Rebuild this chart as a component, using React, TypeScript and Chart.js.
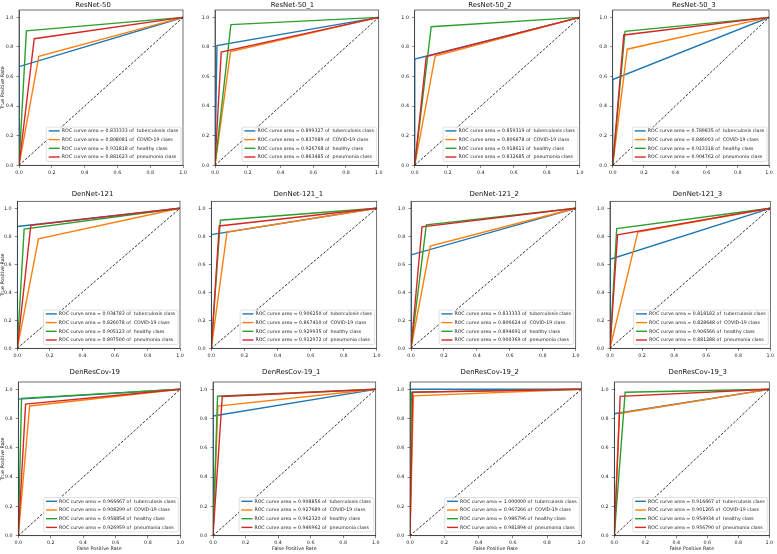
import React, { useEffect, useRef } from 'react';
import { Chart, registerables } from 'chart.js';

Chart.register(...registerables);

// ---------- data ----------
const CLASS_NAMES = ['tuberculosis', 'COVID-19', 'healthy', 'pneumonia'];
const CLASS_COLORS = ['#1f77b4', '#ff7f0e', '#2ca02c', '#d62728'];
const X_TICKS = [0, 0.2, 0.4, 0.6, 0.8, 1.0];
const Y_TICKS = [0, 0.2, 0.4, 0.6, 0.8, 1.0];
const DIAGONAL = [0, 1];

// operating point (false positive rate, true positive rate) per class, and AUC text
const FPR_RESNET50 = [0, 0.121, 0.045, 0.093];
const TPR_RESNET50 = [0.667, 0.737, 0.909, 0.856];
const AUC_RESNET50 = ['0.833333', '0.808081', '0.931818', '0.881623'];

const FPR_RESNET50_1 = [0.012, 0.095, 0.097, 0.038];
const TPR_RESNET50_1 = [0.81, 0.769, 0.951, 0.765];
const AUC_RESNET50_1 = ['0.899327', '0.837089', '0.926768', '0.863485'];

const FPR_RESNET50_2 = [0, 0.124, 0.1, 0.07];
const TPR_RESNET50_2 = [0.719, 0.738, 0.937, 0.735];
const AUC_RESNET50_2 = ['0.859319', '0.806878', '0.918611', '0.832685'];

const FPR_RESNET50_3 = [0, 0.093, 0.079, 0.071];
const TPR_RESNET50_3 = [0.58, 0.785, 0.906, 0.881];
const AUC_RESNET50_3 = ['0.789835', '0.846003', '0.913318', '0.904762'];

const FPR_DENNET121 = [0, 0.13, 0.042, 0.083];
const TPR_DENNET121 = [0.87, 0.782, 0.852, 0.878];
const AUC_DENNET121 = ['0.934783', '0.826078', '0.905123', '0.897500'];

const FPR_DENNET121_1 = [0, 0.095, 0.055, 0.048];
const TPR_DENNET121_1 = [0.8125, 0.83, 0.915, 0.874];
const AUC_DENNET121_1 = ['0.906250', '0.867410', '0.929935', '0.912972'];

const FPR_DENNET121_2 = [0, 0.117, 0.093, 0.067];
const TPR_DENNET121_2 = [0.667, 0.73, 0.882, 0.868];
const AUC_DENNET121_2 = ['0.833333', '0.806624', '0.894691', '0.900369'];

const FPR_DENNET121_3 = [0, 0.174, 0.042, 0.047];
const TPR_DENNET121_3 = [0.636, 0.831, 0.855, 0.81];
const AUC_DENNET121_3 = ['0.818182', '0.828648', '0.906566', '0.881288'];

const FPR_DENRESCOV19 = [0, 0.07, 0.02, 0.045];
const TPR_DENRESCOV19 = [0.933, 0.886, 0.938, 0.899];
const AUC_DENRESCOV19 = ['0.966667', '0.908299', '0.958854', '0.926959'];

const FPR_DENRESCOV19_1 = [0, 0.03, 0.028, 0.057];
const TPR_DENRESCOV19_1 = [0.818, 0.885, 0.953, 0.951];
const AUC_DENRESCOV19_1 = ['0.908856', '0.927689', '0.962320', '0.946962'];

const FPR_DENRESCOV19_2 = [0, 0.02, 0.008, 0.016];
const TPR_DENRESCOV19_2 = [1.0, 0.955, 0.981, 0.98];
const AUC_DENRESCOV19_2 = ['1.000000', '0.967266', '0.986796', '0.981894'];

const FPR_DENRESCOV19_3 = [0, 0.032, 0.07, 0.038];
const TPR_DENRESCOV19_3 = [0.833, 0.835, 0.98, 0.952];
const AUC_DENRESCOV19_3 = ['0.916667', '0.901265', '0.954934', '0.956790'];

const PANELS = [
  { title: 'ResNet-50', fpr: FPR_RESNET50, tpr: TPR_RESNET50, auc: AUC_RESNET50 },
  { title: 'ResNet-50_1', fpr: FPR_RESNET50_1, tpr: TPR_RESNET50_1, auc: AUC_RESNET50_1 },
  { title: 'ResNet-50_2', fpr: FPR_RESNET50_2, tpr: TPR_RESNET50_2, auc: AUC_RESNET50_2 },
  { title: 'ResNet-50_3', fpr: FPR_RESNET50_3, tpr: TPR_RESNET50_3, auc: AUC_RESNET50_3 },
  { title: 'DenNet-121', fpr: FPR_DENNET121, tpr: TPR_DENNET121, auc: AUC_DENNET121 },
  { title: 'DenNet-121_1', fpr: FPR_DENNET121_1, tpr: TPR_DENNET121_1, auc: AUC_DENNET121_1 },
  { title: 'DenNet-121_2', fpr: FPR_DENNET121_2, tpr: TPR_DENNET121_2, auc: AUC_DENNET121_2 },
  { title: 'DenNet-121_3', fpr: FPR_DENNET121_3, tpr: TPR_DENNET121_3, auc: AUC_DENNET121_3 },
  { title: 'DenResCov-19', fpr: FPR_DENRESCOV19, tpr: TPR_DENRESCOV19, auc: AUC_DENRESCOV19 },
  { title: 'DenResCov-19_1', fpr: FPR_DENRESCOV19_1, tpr: TPR_DENRESCOV19_1, auc: AUC_DENRESCOV19_1 },
  { title: 'DenResCov-19_2', fpr: FPR_DENRESCOV19_2, tpr: TPR_DENRESCOV19_2, auc: AUC_DENRESCOV19_2 },
  { title: 'DenResCov-19_3', fpr: FPR_DENRESCOV19_3, tpr: TPR_DENRESCOV19_3, auc: AUC_DENRESCOV19_3 },
];

// ---------- layout (page pixels) ----------
const ROW_TOP = [10, 201.3, 382];
const ROW_BOTTOM = [165.3, 348.3, 535.7];
const ROW_TITLE_Y = [5, 194, 372.3];
const COL_LEFT = [
  [19, 215, 414.7, 612.7],
  [17.3, 211.3, 411, 610],
  [18.3, 213, 410, 614.3],
];
const COL_RIGHT = [
  [183, 378.7, 579.7, 769],
  [180, 376.7, 575.7, 770.3],
  [180.3, 375.7, 581.3, 769.3],
];
const TITLE_X = [
  [93, 292.5, 490, 693.8],
  [92.5, 298.3, 494.2, 697.5],
  [94.8, 291.2, 489.7, 697.7],
];

const FONT = '"DejaVu Sans", sans-serif';
const TEXT_COLOR = '#1a1a1a';
const TICK_SIZE = 4.8;
const TITLE_SIZE = 6.9;
const LABEL_SIZE = 4.8;
const LEGEND_SIZE = 4.7;
const LEGEND_ROW = 8.7;

function Panel({ idx }: { idx: number }) {
  const ref = useRef<HTMLCanvasElement>(null);
  const row = Math.floor(idx / 4);
  const col = idx % 4;
  const p = PANELS[idx];
  const L = COL_LEFT[row][col];
  const R = COL_RIGHT[row][col];
  const T = ROW_TOP[row];
  const B = ROW_BOTTOM[row];
  const cl = col === 0 ? 0 : Math.floor(L - 18);
  const ct = Math.floor(Math.min(T - 12, ROW_TITLE_Y[row] - 7));
  const cw = Math.ceil(R + 8) - cl;
  const ch = Math.ceil(B + 18) - ct;

  useEffect(() => {
    const canvas = ref.current;
    if (!canvas) return;
    const datasets: any[] = CLASS_NAMES.map((name, i) => ({
      label: name,
      data: [
        { x: 0, y: 0 },
        { x: p.fpr[i], y: p.tpr[i] },
        { x: 1, y: 1 },
      ],
      borderColor: CLASS_COLORS[i],
      backgroundColor: CLASS_COLORS[i],
      borderWidth: 1.4,
      showLine: true,
      pointRadius: 0,
      tension: 0,
      order: 4 - i,
    }));
    datasets.push({
      label: 'chance',
      data: DIAGONAL.map((v) => ({ x: v, y: v })),
      borderColor: '#000000',
      backgroundColor: '#000000',
      borderWidth: 0.8,
      borderDash: [2.6, 1.6],
      showLine: true,
      pointRadius: 0,
      order: 0,
    });

    const decor = {
      id: 'decor',
      afterDraw(chart: any) {
        const { ctx, chartArea: a } = chart;
        ctx.save();
        // frame (all four spines)
        ctx.strokeStyle = '#333333';
        ctx.lineWidth = 0.7;
        ctx.strokeRect(a.left, a.top, a.right - a.left, a.bottom - a.top);

        // title
        ctx.fillStyle = '#111111';
        ctx.font = `${TITLE_SIZE}px ${FONT}`;
        ctx.textAlign = 'center';
        ctx.textBaseline = 'middle';
        ctx.fillText(p.title, TITLE_X[row][col] - cl, ROW_TITLE_Y[row] - ct);

        // axis labels
        ctx.fillStyle = TEXT_COLOR;
        ctx.font = `${LABEL_SIZE}px ${FONT}`;
        if (col === 0) {
          ctx.save();
          ctx.translate(3.1 - cl, (a.top + a.bottom) / 2);
          ctx.rotate(-Math.PI / 2);
          ctx.fillText('True Positive Rate', 0, 0);
          ctx.restore();
        }
        if (row === 2) {
          ctx.fillText('False Positive Rate', (a.left + a.right) / 2, 549 - ct);
        }

        // legend (lower right)
        ctx.font = `${LEGEND_SIZE}px ${FONT}`;
        const labels = CLASS_NAMES.map((n, i) => `ROC curve area = ${p.auc[i]} of  ${n} class`);
        const maxW = Math.max(...labels.map((t) => ctx.measureText(t).width));
        const padL = 2.3;
        const handle = 11;
        const gap = 2;
        const padR = 2.7;
        const boxW = padL + handle + gap + maxW + padR;
        const boxH = 3.8 + 3 * LEGEND_ROW + 4.5;
        const bx = a.right - 2 - boxW;
        const by = a.bottom - 3.8 - boxH;
        ctx.beginPath();
        if ((ctx as any).roundRect) (ctx as any).roundRect(bx, by, boxW, boxH, 1.5);
        else ctx.rect(bx, by, boxW, boxH);
        ctx.fillStyle = 'rgba(255,255,255,0.85)';
        ctx.fill();
        ctx.strokeStyle = '#cccccc';
        ctx.lineWidth = 0.6;
        ctx.stroke();
        ctx.textAlign = 'left';
        ctx.textBaseline = 'middle';
        labels.forEach((t, i) => {
          const y = by + 3.8 + i * LEGEND_ROW;
          ctx.strokeStyle = CLASS_COLORS[i];
          ctx.lineWidth = 1.4;
          ctx.beginPath();
          ctx.moveTo(bx + padL, y);
          ctx.lineTo(bx + padL + handle, y);
          ctx.stroke();
          ctx.fillStyle = TEXT_COLOR;
          ctx.fillText(t, bx + padL + handle + gap, y + 0.2);
        });
        ctx.restore();
      },
    };

    const tickFont = { family: FONT, size: TICK_SIZE };
    const chart = new Chart(canvas, {
      type: 'scatter',
      data: { datasets },
      options: {
        responsive: false,
        maintainAspectRatio: false,
        animation: false,
        devicePixelRatio: 1,
        events: [],
        layout: {
          padding: { left: 0, top: T - ct, right: cl + cw - R, bottom: 0 },
        },
        plugins: {
          legend: { display: false },
          tooltip: { enabled: false },
          title: { display: false },
        },
        scales: {
          x: {
            type: 'linear',
            min: 0,
            max: 1,
            afterBuildTicks: (s: any) => {
              s.ticks = X_TICKS.map((v) => ({ value: v }));
            },
            afterFit: (s: any) => {
              s.height = ct + ch - B;
            },
            ticks: {
              callback: (v: any) => Number(v).toFixed(1),
              font: tickFont,
              color: TEXT_COLOR,
              padding: 2,
              maxRotation: 0,
              autoSkip: false,
            },
            grid: {
              display: true,
              drawOnChartArea: false,
              drawTicks: true,
              tickLength: 2.5,
              color: '#333333',
              lineWidth: 0.6,
            },
            border: { display: true, color: '#333333', width: 0.7 },
          },
          y: {
            type: 'linear',
            min: 0,
            max: 1.05,
            afterBuildTicks: (s: any) => {
              s.ticks = Y_TICKS.map((v) => ({ value: v }));
            },
            afterFit: (s: any) => {
              s.width = L - cl;
            },
            ticks: {
              callback: (v: any) => Number(v).toFixed(1),
              font: tickFont,
              color: TEXT_COLOR,
              padding: 3.2,
              autoSkip: false,
            },
            grid: {
              display: true,
              drawOnChartArea: false,
              drawTicks: true,
              tickLength: 2.5,
              color: '#333333',
              lineWidth: 0.6,
            },
            border: { display: true, color: '#333333', width: 0.7 },
          },
        },
      },
      plugins: [decor],
    } as any);
    return () => chart.destroy();
  }, []);

  return (
    <canvas
      ref={ref}
      width={cw}
      height={ch}
      style={{ position: 'absolute', left: cl, top: ct, width: cw, height: ch, display: 'block' }}
    />
  );
}

export default function App() {
  return (
    <div
      style={{
        position: 'absolute',
        left: 0,
        top: 0,
        width: 777,
        height: 554,
        background: '#ffffff',
        overflow: 'hidden',
      }}
    >
      {PANELS.map((_, i) => (
        <Panel key={i} idx={i} />
      ))}
    </div>
  );
}
